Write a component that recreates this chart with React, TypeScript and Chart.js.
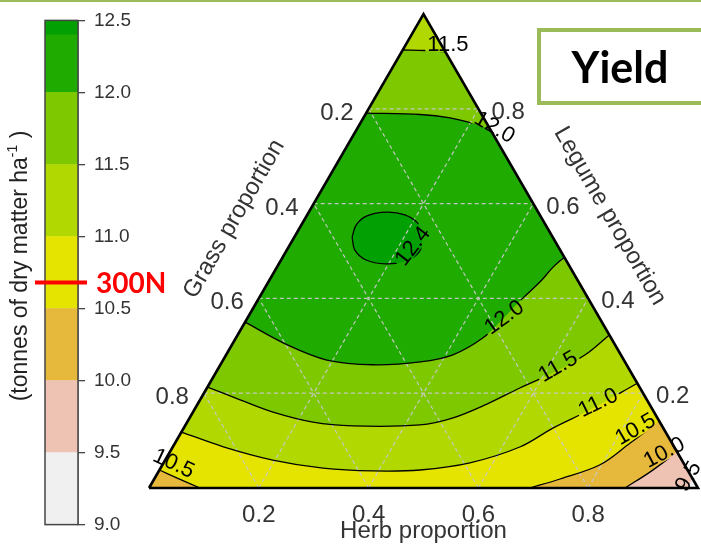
import React, { useEffect, useRef } from 'react';
import { Chart, registerables } from 'chart.js';

Chart.register(...registerables);

const SQ = Math.sqrt(3) / 2;

// ---------- colour key ----------
const bandLower = [9.0, 9.5, 10.0, 10.5, 11.0, 11.5, 12.0, 12.4];
const bandUpper = [9.5, 10.0, 10.5, 11.0, 11.5, 12.0, 12.4, 12.5];
const bandColors = ['#f0f0f0', '#efc3b3', '#e6b93c', '#e5e400', '#b1d800', '#7ec800', '#1fab00', '#03a003'];
const keyMin = 9.0;
const keyMax = 12.5;
const keyStep = 0.5;
const markerYield = 10.68;
const markerLabel = '300N';
const keyTitleMain = '(tonnes of dry matter ha';
const keyTitleSup = '-1';
const keyTitleEnd = ' )';

// ---------- ternary axes ----------
const axisTicks = [0.2, 0.4, 0.6, 0.8];
const herbTitle = 'Herb proportion';
const grassTitle = 'Grass proportion';
const legumeTitle = 'Legume proportion';
const panelTitle = 'Yield';

// ---------- contour lines, points as [herb, legume] ----------
type TP = [number, number];
const c115top: TP[] = [[0, 0.924], [0.041, 0.923], [0.080, 0.920]];
const c120top: TP[] = [[0, 0.791], [0.100, 0.788], [0.158, 0.781], [0.210, 0.768], [0.243, 0.757]];
const c124: TP[] = [[0.105, 0.530], [0.100, 0.555], [0.110, 0.574], [0.142, 0.582], [0.178, 0.576], [0.212, 0.557],
  [0.234, 0.527], [0.243, 0.498], [0.229, 0.479], [0.194, 0.473], [0.155, 0.481], [0.124, 0.502]];
const c120: TP[] = [[0, 0.350], [0.101, 0.302], [0.189, 0.270], [0.278, 0.260], [0.361, 0.266], [0.413, 0.281],
  [0.450, 0.317], [0.467, 0.359], [0.480, 0.399], [0.495, 0.435], [0.503, 0.466], [0.513, 0.487]];
const c115: TP[] = [[0, 0.213], [0.073, 0.186], [0.146, 0.160], [0.229, 0.139], [0.306, 0.131], [0.427, 0.133],
  [0.480, 0.148], [0.527, 0.177], [0.570, 0.211], [0.617, 0.245], [0.654, 0.281], [0.677, 0.323]];
const c110: TP[] = [[0, 0.118], [0.092, 0.087], [0.196, 0.059], [0.296, 0.042], [0.390, 0.036], [0.475, 0.038],
  [0.558, 0.053], [0.633, 0.087], [0.673, 0.127], [0.721, 0.165], [0.779, 0.221]];
const c105right: TP[] = [[0.694, 0], [0.739, 0.019], [0.797, 0.049], [0.829, 0.095], [0.859, 0.141]];
const c105left: TP[] = [[0, 0.038], [0.041, 0.021], [0.093, 0]];
const c100: TP[] = [[0.867, 0], [0.896, 0.034], [0.924, 0.076]];
const c095: TP[] = [[0.982, 0], [0.979, 0.021]];

// contour labels: text, herb, legume, angle (deg)
const labelTexts = ['11.5', '12.0', '12.4', '12.0', '11.5', '11.0', '10.5', '10.0', '9.5', '10.5'];
const labelHerb = [0.076, 0.249, 0.224, 0.466, 0.616, 0.727, 0.823, 0.900, 0.969, 0.019];
const labelLegume = [0.937, 0.762, 0.511, 0.361, 0.257, 0.181, 0.125, 0.076, 0.025, 0.053];
const labelAngle = [0, 30, -52, -36, -30, -26, -30, -28, -60, 25];

const BL: TP = [0, 0];
const BR: TP = [1, 0];
const AP: TP = [0, 1];
const toXY = ([h, l]: TP) => ({ x: h + l / 2, y: l * SQ });
const last = (a: TP[]) => a[a.length - 1];

const SANS = '"Liberation Sans", Arial, sans-serif';
const LABEL_FONT = `22px ${SANS}`;
const TENSION = 0.35;

function triangleConfig(): any {
  const P = (chart: any, h: number, l: number) => [
    chart.scales.x.getPixelForValue(h + l / 2),
    chart.scales.y.getPixelForValue(l * SQ),
  ];

  // filled bands, painted in this order; duplicated points keep polygon edges straight under tension
  const regions: { pts: TP[]; band: number; curved: boolean }[] = [
    { pts: [BL, BR, AP], band: 4, curved: false },
    { pts: [...c115top, last(c115top), BR, BR, BL, BL], band: 5, curved: true },
    { pts: [...c120top, last(c120top), last(c120), ...[...c120].reverse()], band: 6, curved: true },
    { pts: [...c124, c124[0]], band: 7, curved: true },
    { pts: [...c115, last(c115), BR, BR, BL, BL], band: 4, curved: true },
    { pts: [...c110, last(c110), BR, BR, BL, BL], band: 3, curved: true },
    { pts: [...c105right, last(c105right), BR, BR], band: 2, curved: true },
    { pts: [...c105left, last(c105left), BL, BL], band: 2, curved: true },
    { pts: [...c100, last(c100), BR, BR], band: 1, curved: true },
    { pts: [...c095, last(c095), BR, BR], band: 0, curved: true },
  ];
  const ds: any[] = [];
  regions.forEach((r) => {
    ds.push({
      data: r.pts.map(toXY),
      fill: 'shape',
      backgroundColor: bandColors[r.band],
      borderColor: 'rgba(0,0,0,0)',
      borderWidth: 0,
      pointRadius: 0,
      tension: r.curved ? TENSION : 0,
    });
  });
  const grid: TP[][] = [];
  axisTicks.forEach((v) => {
    grid.push([[0, v], [1 - v, v]]);
    grid.push([[v, 0], [v, 1 - v]]);
    grid.push([[1 - v, 0], [0, 1 - v]]);
  });
  grid.forEach((g) => {
    ds.push({
      data: g.map(toXY),
      fill: false,
      borderColor: 'rgba(200,200,200,0.95)',
      borderWidth: 1.2,
      borderDash: [4, 3],
      pointRadius: 0,
      tension: 0,
    });
  });
  const lines: TP[][] = [c115top, c120top, [...c124, c124[0]], c120, c115, c110, c105right, c105left, c100, c095];
  lines.forEach((ln) => {
    ds.push({
      data: ln.map(toXY),
      fill: false,
      borderColor: '#000',
      borderWidth: 1.3,
      pointRadius: 0,
      tension: TENSION,
      isContour: true,
    });
  });
  ds.push({
    data: [BL, BR, AP, BL].map(toXY),
    fill: false,
    borderColor: '#000',
    borderWidth: 2.6,
    pointRadius: 0,
    clip: false,
    tension: 0,
  });
  const n = ds.length;
  ds.forEach((d, i) => { d.order = n - i; });

  // break contour lines under their labels
  const gapPlugin = {
    id: 'labelGaps',
    beforeDatasetDraw(chart: any, args: any) {
      const d = chart.data.datasets[args.index];
      if (!d || !d.isContour) return;
      const ctx = chart.ctx as CanvasRenderingContext2D;
      ctx.save();
      ctx.font = LABEL_FONT;
      ctx.beginPath();
      ctx.rect(0, 0, chart.width, chart.height);
      labelTexts.forEach((t, i) => {
        const [x, y] = P(chart, labelHerb[i], labelLegume[i]);
        const w = ctx.measureText(t).width + 4;
        const h = 17;
        const a = (labelAngle[i] * Math.PI) / 180;
        const c = Math.cos(a);
        const s = Math.sin(a);
        const corners = [[-w / 2, -h / 2], [w / 2, -h / 2], [w / 2, h / 2], [-w / 2, h / 2]].map(([u, v]) => [
          x + u * c - v * s,
          y + u * s + v * c,
        ]);
        ctx.moveTo(corners[0][0], corners[0][1]);
        for (let k = 1; k < 4; k++) ctx.lineTo(corners[k][0], corners[k][1]);
        ctx.closePath();
      });
      ctx.clip('evenodd');
    },
    afterDatasetDraw(chart: any, args: any) {
      const d = chart.data.datasets[args.index];
      if (!d || !d.isContour) return;
      chart.ctx.restore();
    },
  };

  const textPlugin = {
    id: 'ternaryText',
    afterDraw(chart: any) {
      const ctx = chart.ctx as CanvasRenderingContext2D;
      ctx.save();
      // top rule
      ctx.fillStyle = '#9bbb59';
      ctx.fillRect(0, 0, chart.width, 2);
      // tick labels
      ctx.fillStyle = '#333';
      ctx.font = `24px ${SANS}`;
      ctx.textBaseline = 'alphabetic';
      ctx.textAlign = 'right';
      axisTicks.forEach((g) => {
        const [x, y] = P(chart, 0, 1 - g);
        ctx.fillText(g.toFixed(1), x - 15, y + 11);
      });
      ctx.textAlign = 'left';
      axisTicks.forEach((l) => {
        const [x, y] = P(chart, 1 - l, l);
        ctx.fillText(l.toFixed(1), x + 13, y + 10);
      });
      ctx.textAlign = 'center';
      axisTicks.forEach((h) => {
        const [x, y] = P(chart, h, 0);
        ctx.fillText(h.toFixed(1), x, y + 34);
      });
      // axis titles
      const [bx, by] = P(chart, 0.5, 0);
      ctx.fillText(herbTitle, bx, by + 50);
      ctx.textBaseline = 'middle';
      const [lx, ly] = P(chart, 0, 0.5);
      ctx.save();
      ctx.translate(lx - 52, ly - 32);
      ctx.rotate(-Math.PI / 3);
      ctx.fillText(grassTitle, 0, 0);
      ctx.restore();
      const [rx, ry] = P(chart, 0.5, 0.5);
      ctx.save();
      ctx.translate(rx + 49, ry - 35);
      ctx.rotate(Math.PI / 3);
      ctx.fillText(legumeTitle, 0, 0);
      ctx.restore();
      // contour labels
      ctx.fillStyle = '#000';
      ctx.font = LABEL_FONT;
      labelTexts.forEach((t, i) => {
        const [x, y] = P(chart, labelHerb[i], labelLegume[i]);
        ctx.save();
        ctx.translate(x, y);
        ctx.rotate((labelAngle[i] * Math.PI) / 180);
        ctx.fillText(t, 0, 1);
        ctx.restore();
      });
      // panel title box
      ctx.strokeStyle = '#9bbb59';
      ctx.lineWidth = 4;
      ctx.strokeRect(539, 30, 200, 73);
      ctx.fillStyle = '#000';
      ctx.font = `bold 43px Lato, ${SANS}`;
      ctx.textAlign = 'center';
      ctx.textBaseline = 'alphabetic';
      ctx.fillText(panelTitle, 620, 83);
      ctx.restore();
    },
  };

  return {
    type: 'line',
    data: { datasets: ds },
    options: {
      animation: false,
      responsive: false,
      events: [],
      layout: { padding: { left: 149, right: 3, top: 14, bottom: 57 } },
      scales: {
        x: { type: 'linear', min: 0, max: 1, display: false },
        y: { type: 'linear', min: 0, max: SQ, display: false },
      },
      plugins: { legend: { display: false }, tooltip: { enabled: false } },
      elements: { point: { radius: 0 } },
    },
    plugins: [gapPlugin, textPlugin],
  };
}

function keyConfig(): any {
  const keyPlugin = {
    id: 'keyDecor',
    afterDraw(chart: any) {
      const ctx = chart.ctx as CanvasRenderingContext2D;
      const a = chart.chartArea;
      const ys = chart.scales.y;
      ctx.save();
      ctx.strokeStyle = '#444';
      ctx.lineWidth = 1.5;
      ctx.strokeRect(a.left, a.top, a.right - a.left, a.bottom - a.top);
      const my = ys.getPixelForValue(markerYield);
      ctx.strokeStyle = '#ff0000';
      ctx.lineWidth = 4;
      ctx.beginPath();
      ctx.moveTo(a.left - 10, my);
      ctx.lineTo(a.right + 9, my);
      ctx.stroke();
      ctx.fillStyle = '#ff0000';
      ctx.font = `bold 28px Lato, ${SANS}`;
      ctx.textAlign = 'left';
      ctx.textBaseline = 'middle';
      ctx.fillText(markerLabel, a.right + 18, my + 1);
      // rotated key title
      ctx.translate(21, 266);
      ctx.rotate(-Math.PI / 2);
      ctx.fillStyle = '#222';
      const big = `23px ${SANS}`;
      const small = `14px ${SANS}`;
      ctx.font = big;
      const w1 = ctx.measureText(keyTitleMain).width;
      const w3 = ctx.measureText(keyTitleEnd).width;
      ctx.font = small;
      const w2 = ctx.measureText(keyTitleSup).width;
      let x = -(w1 + w2 + w3) / 2;
      ctx.font = big;
      ctx.fillText(keyTitleMain, x, 0);
      x += w1;
      ctx.font = small;
      ctx.fillText(keyTitleSup, x, -8);
      x += w2;
      ctx.font = big;
      ctx.fillText(keyTitleEnd, x, 0);
      ctx.restore();
    },
  };
  return {
    type: 'bar',
    data: {
      labels: [''],
      datasets: bandLower.map((lo, i) => ({
        data: [[lo, bandUpper[i]]],
        backgroundColor: bandColors[i],
        borderWidth: 0,
        grouped: false,
        barPercentage: 1,
        categoryPercentage: 1,
      })),
    },
    options: {
      animation: false,
      responsive: false,
      events: [],
      layout: { padding: { left: 45, right: 42, top: 16, bottom: 16 } },
      scales: {
        x: { display: false },
        y: {
          position: 'right',
          min: keyMin,
          max: keyMax,
          afterFit: (s: any) => { s.width = 60; },
          ticks: {
            stepSize: keyStep,
            autoSkip: false,
            callback: (v: any) => Number(v).toFixed(1),
            color: '#333',
            font: { family: SANS, size: 19 },
            padding: 9,
          },
          grid: { drawOnChartArea: false, drawTicks: true, tickLength: 7, color: '#444', lineWidth: 1.3 },
          border: { display: true, color: '#444', width: 1.5 },
        },
      },
      plugins: { legend: { display: false }, tooltip: { enabled: false } },
    },
    plugins: [keyPlugin],
  };
}

export default function App() {
  const keyRef = useRef<HTMLCanvasElement>(null);
  const triRef = useRef<HTMLCanvasElement>(null);
  useEffect(() => {
    const key = new Chart(keyRef.current as HTMLCanvasElement, keyConfig());
    const tri = new Chart(triRef.current as HTMLCanvasElement, triangleConfig());
    return () => {
      key.destroy();
      tri.destroy();
    };
  }, []);
  return (
    <div style={{ position: 'fixed', left: 0, top: 0, width: 701, height: 545, background: '#fff', overflow: 'hidden' }}>
      <canvas ref={keyRef} width={180} height={545} style={{ position: 'absolute', left: 0, top: 0 }} />
      <canvas ref={triRef} width={701} height={545} style={{ position: 'absolute', left: 0, top: 0 }} />
    </div>
  );
}
